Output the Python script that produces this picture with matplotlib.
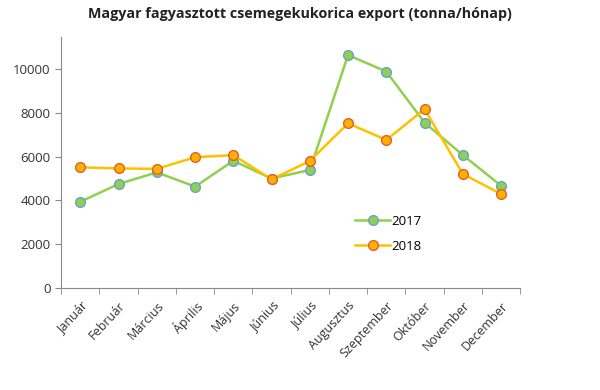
import matplotlib.pyplot as plt
import numpy as np

MONTHS = ["Január", "Február", "Március", "Április", "Május", "Június",
          "Július", "Augusztus", "Szeptember", "Október", "November", "December"]
EXPORT_2017 = [3940, 4750, 5280, 4630, 5810, 5000, 5390, 10640, 9880, 7550, 6070, 4670]
EXPORT_2018 = [5510, 5460, 5440, 5970, 6070, 4960, 5800, 7520, 6760, 8170, 5210, 4290]
YTICKS = [0, 2000, 4000, 6000, 8000, 10000]

plt.rcParams["font.family"] = ["Open Sans", "DejaVu Sans"]

fig = plt.figure(figsize=(6, 3.9), dpi=100)
ax = fig.add_axes([0.102, 0.2615, 0.765, 0.643])

x = np.arange(len(MONTHS)) + 0.5
ax.plot(x, EXPORT_2017, color="#8FD14F", lw=1.8, marker="o", ms=7,
        mfc="#8FD14F", mec="#6A9FD0", mew=1, label="2017")
ax.plot(x, EXPORT_2018, color="#FFC000", lw=1.8, marker="o", ms=7,
        mfc="#FFB000", mec="#E0602A", mew=1, label="2018")

ax.set_xlim(0, len(MONTHS))
ax.set_ylim(0, 11450)
ax.set_yticks(YTICKS)
ax.set_xticks(x)
ax.set_xticklabels(MONTHS, rotation=47, ha="right", rotation_mode="anchor")
ax.set_xticks(np.arange(len(MONTHS) + 1), minor=True)
ax.tick_params(axis="x", which="major", length=0, pad=8, labelsize=9, colors="#333333")
ax.tick_params(axis="x", which="minor", length=4, color="#888888")
ax.tick_params(axis="y", length=4, labelsize=9.5, colors="#333333")
ax.tick_params(axis="y", color="#888888")

for side in ["top", "right"]:
    ax.spines[side].set_visible(False)
for side in ["left", "bottom"]:
    ax.spines[side].set_color("#888888")

ax.legend(loc="upper left", bbox_to_anchor=(0.615, 0.34), frameon=False,
          fontsize=9.5, handlelength=2.6, labelspacing=0.9, handletextpad=0.1)

fig.suptitle("Magyar fagyasztott csemegekukorica export (tonna/hónap)",
             x=0.5, y=0.983, fontsize=10.3, fontweight="bold", color="#222222")

fig.savefig("out.png", dpi=100)
